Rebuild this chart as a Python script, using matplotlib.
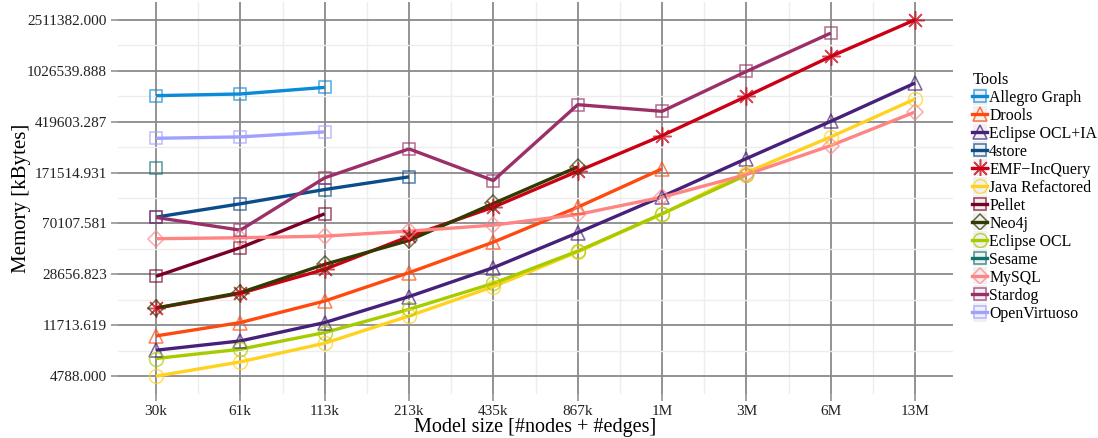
import numpy as np
import matplotlib
matplotlib.use("Agg")
import matplotlib.pyplot as plt
from matplotlib.colors import to_rgba
from matplotlib.lines import Line2D
from matplotlib.patches import Rectangle
from matplotlib.legend_handler import HandlerLine2D

plt.rcParams["font.family"] = ["Liberation Serif", "DejaVu Serif"]

nan = np.nan
sizes = ["30k", "61k", "113k", "213k", "435k", "867k", "1M", "3M", "6M", "13M"]

# memory usage in kBytes per tool, nan where the tool did not finish
allegro_graph = [662000, 682000, 765600, nan, nan, nan, nan, nan, nan, nan]
drools = [9707, 12280, 17930, 29520, 50490, 93280, 183000, nan, nan, nan]
eclipse_ocl_ia = [7553, 8892, 12280, 19380, 32230, 59530, 112500, 219200, 421700, 827000]
four_store = [78300, 99000, 127200, 159000, nan, nan, nan, nan, nan, nan]
emf_incquery = [15780, 20530, 31280, 55790, 93280, 175400, 328100, 653800, 1318900, 2511382]
java_refactored = [4788, 6152, 8540, 13790, 23090, 42520, 82800, 171500, 320700, 624700]
pellet = [27670, 45760, 83100, nan, nan, nan, nan, nan, nan, nan]
neo4j = [15860, 20780, 34150, 52010, 99540, 189500, nan, nan, nan, nan]
eclipse_ocl = [6530, 7687, 10300, 15500, 24470, 43120, 83100, 164100, nan, nan]
sesame = [184900, nan, nan, nan, nan, nan, nan, nan, nan, nan]
mysql = [53600, 54530, 56080, 61230, 68030, 82090, 111200, 165500, 275400, 497300]
stardog = [77900, 62300, 156200, 259800, 149000, 565000, 502600, 1013700, 1988000, nan]
open_virtuoso = [313000, 320700, 350200, nan, nan, nan, nan, nan, nan, nan]

tools = [
    ("Allegro Graph", allegro_graph, "#0a8ad8", "s"),
    ("Drools", drools, "#ff4a0f", "^"),
    ("Eclipse OCL+IA", eclipse_ocl_ia, "#47207a", "^"),
    ("4store", four_store, "#0b4c8a", "s"),
    ("EMF\u2212IncQuery", emf_incquery, "#cc0014", (8, 2, 0)),
    ("Java Refactored", java_refactored, "#ffd21f", "o"),
    ("Pellet", pellet, "#7a0025", "s"),
    ("Neo4j", neo4j, "#2f3b00", "D"),
    ("Eclipse OCL", eclipse_ocl, "#a6cc00", "o"),
    ("Sesame", sesame, "#107370", "s"),
    ("MySQL", mysql, "#ff8585", "D"),
    ("Stardog", stardog, "#9b3068", "s"),
    ("OpenVirtuoso", open_virtuoso, "#a0a0ff", "s"),
]
marker_size = {"s": 9, "^": 10, "o": 10, "D": 8, (8, 2, 0): 13}

fig = plt.figure(figsize=(10.98, 4.38), dpi=100)
ax = fig.add_axes([0.1075, 0.1005, 0.7605, 0.895])

x = np.arange(1, len(sizes) + 1)
handles = []
for name, values, color, marker in tools:
    y = np.array(values, dtype=float)
    ax.plot(x, y, color=color, lw=2.4, solid_capstyle="butt", zorder=3)
    ax.plot(x, y, ls="none", marker=marker, ms=marker_size[marker],
            mfc="none", mec=to_rgba(color, 0.7), mew=1.1, zorder=4)
    handles.append(Line2D([], [], color=color, lw=2.4, marker=marker,
                          ms=marker_size[marker], mfc="none",
                          mec=to_rgba(color, 0.75), mew=1.1, label=name))

# log scale, breaks spread evenly between the smallest and largest value
all_vals = np.concatenate([np.array(v, dtype=float) for _, v, _, _ in tools])
lo, hi = np.nanmin(all_vals), np.nanmax(all_vals)
breaks = np.geomspace(lo, hi, 8)
span = np.log10(hi) - np.log10(lo)
ax.set_yscale("log")
ax.set_ylim(10 ** (np.log10(lo) - 0.05 * span), 10 ** (np.log10(hi) + 0.05 * span))
ax.yaxis.set_major_locator(matplotlib.ticker.FixedLocator(breaks))
ax.set_yticklabels([f"{b:.3f}" for b in breaks])
minor_y = np.sqrt(breaks[:-1] * breaks[1:])
ax.yaxis.set_minor_locator(matplotlib.ticker.FixedLocator(minor_y))
ax.yaxis.set_minor_formatter(matplotlib.ticker.NullFormatter())

ax.set_xlim(1 - 0.45, len(sizes) + 0.45)
ax.set_xticks(x)
ax.set_xticklabels(sizes)
ax.set_xticks(x[:-1] + 0.5, minor=True)

ax.grid(which="major", color="#8a8a8a", lw=1.3, zorder=1)
ax.grid(which="minor", color="#ededed", lw=1.0, zorder=0)
ax.set_axisbelow(True)
for s in ax.spines.values():
    s.set_visible(False)
ax.tick_params(which="major", length=5, width=1.1, color="#8a8a8a",
               labelsize=11, labelcolor="#222222", pad=3)
ax.tick_params(which="minor", length=0)

ax.set_xlabel("Model size [#nodes + #edges]", fontsize=14.5, labelpad=0)
ax.set_ylabel("Memory [kBytes]", fontsize=15)
ax.yaxis.set_label_coords(-0.104, 0.5)


class KeyHandler(HandlerLine2D):
    def create_artists(self, legend, orig_handle, xdescent, ydescent,
                       width, height, fontsize, trans):
        bg = Rectangle((-xdescent, -ydescent - 3), width, height + 6,
                       facecolor="#f0f0f0", edgecolor="white", lw=0.8,
                       transform=trans)
        artists = super().create_artists(legend, orig_handle, xdescent, ydescent,
                                         width, height, fontsize, trans)
        return [bg] + artists


leg = fig.legend(handles=handles, title="Tools", loc="upper left",
                 bbox_to_anchor=(0.8855, 0.836), frameon=False, fontsize=11.4,
                 title_fontsize=11.8, handlelength=0.95, handletextpad=0.12,
                 labelspacing=0.125, borderaxespad=0, borderpad=0,
                 handler_map={Line2D: KeyHandler()})
leg._legend_box.align = "left"

fig.savefig("out.png", dpi=100)
